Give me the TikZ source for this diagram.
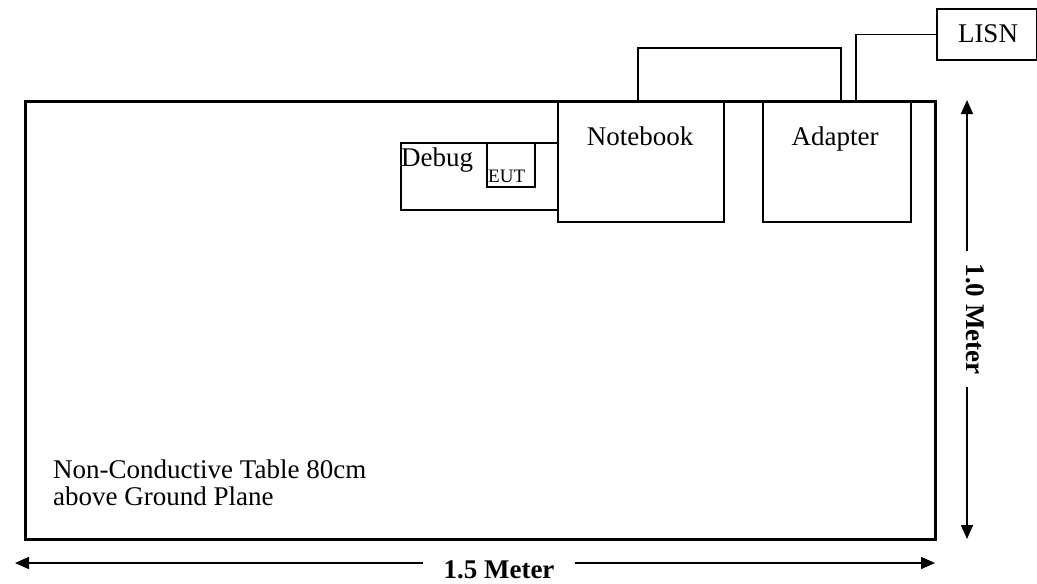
\documentclass[tikz,border=0pt]{standalone}
\usepackage{fontspec}
\setmainfont{Liberation Serif}
\usetikzlibrary{arrows.meta}
\begin{document}
\begin{tikzpicture}[x=1pt,y=-1pt,
  box/.style={draw,line width=1.6pt,anchor=north west,inner sep=0pt},
  tablebox/.style={draw,line width=3pt,anchor=north west,inner sep=0pt},
  cable/.style={line width=1.6pt},
  dimarrow/.style={line width=1.6pt,-{Triangle[length=14pt,width=12pt]}},
  txt/.style={font=\fontsize{27}{27}\selectfont,inner sep=0pt},
  smalltxt/.style={font=\fontsize{19}{20}\selectfont,inner sep=0pt},
  dimtxt/.style={font=\fontsize{27}{27}\selectfont\bfseries,inner sep=0pt}]
\useasboundingbox (0,0) rectangle (1037,584);
% table
\node[tablebox,minimum width=910pt,minimum height=438pt] (table) at (24,100) {};
% boxes
\node[box,minimum width=157pt,minimum height=67pt] (debug) at (400,142) {};
\node[box,minimum width=48pt,minimum height=44pt] (eut) at (486,142) {};
\node[box,minimum width=166pt,minimum height=121pt] (notebook) at (557,100) {};
\node[box,minimum width=148pt,minimum height=121pt] (adapter) at (762,100) {};
\node[box,minimum width=100pt,minimum height=51pt] (lisn) at (936,8) {};
% texts
\node[txt,anchor=base west] (debugtxt) at (401,166) {Debug};
\node[smalltxt,anchor=base west] (euttxt) at (488,182) {EUT};
\node[txt,anchor=base] (nbtxt) at (640,145) {Notebook};
\node[txt,anchor=base] (adtxt) at (835,145) {Adapter};
\node[txt,anchor=base] (lisntxt) at (988,42) {LISN};
\node[txt,anchor=base west,align=left] (tabletxt) at (53,505) {Non-Conductive Table 80cm\\above Ground Plane};
% cables
\coordinate (c1) at (638,48);
\coordinate (c2) at (841,48);
\coordinate (c3) at (856,33);
\draw[cable] (c1 |- notebook.north) -- (c1) -- (c2) -- (c2 |- adapter.north);
\draw[cable] (c3 |- adapter.north) |- (lisn.west);
% vertical dimension
\coordinate (vt) at (967,100);
\coordinate (vb) at (967,539);
\node[dimtxt,anchor=base,rotate=-90,inner xsep=12pt] (vlab) at (966,319) {1.0 Meter};
\draw[dimarrow] (vlab.west -| vt) -- (vt);
\draw[dimarrow] (vlab.east -| vb) -- (vb);
% horizontal dimension
\coordinate (hl) at (15,563);
\coordinate (hr) at (935,563);
\node[dimtxt,anchor=base,inner xsep=20pt] (hlab) at (499,578) {1.5 Meter};
\draw[dimarrow] (hlab.west |- hl) -- (hl);
\draw[dimarrow] (hlab.east |- hr) -- (hr);
\end{tikzpicture}
\end{document}
